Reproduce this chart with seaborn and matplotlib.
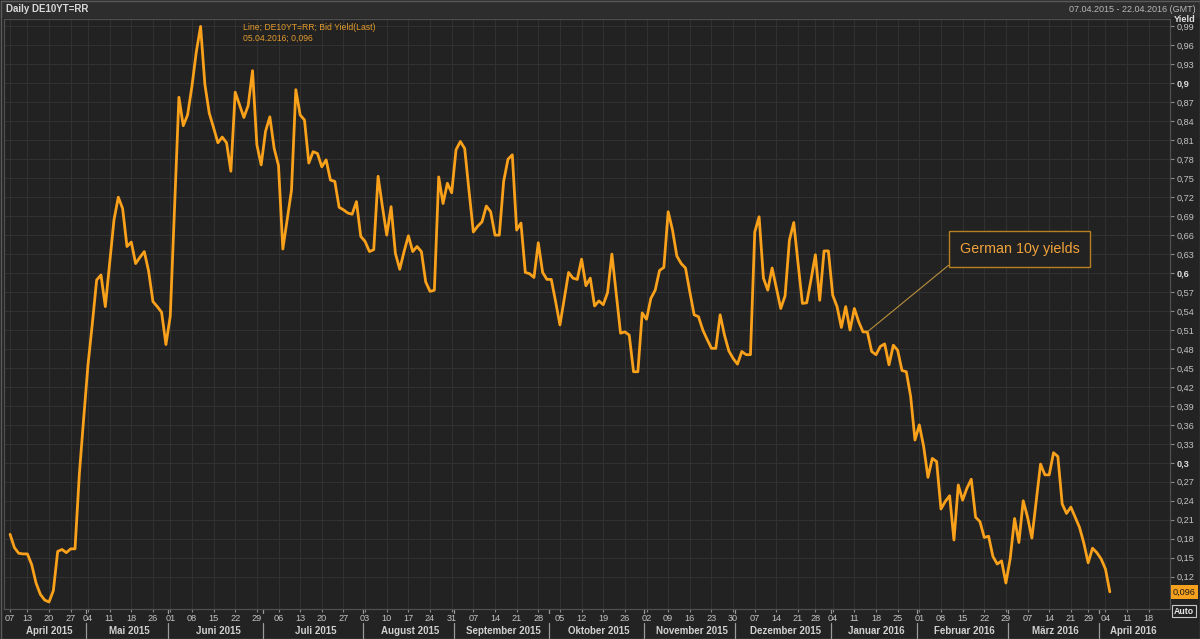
import numpy as np
import pandas as pd
import matplotlib
matplotlib.use("Agg")
import matplotlib.pyplot as plt
from matplotlib.patches import Rectangle
import seaborn as sns

# ---------------- data ----------------
axis_start = "2015-04-07"
axis_end = "2016-04-22"
holidays = ["2015-05-01", "2015-05-25", "2015-12-25", "2016-01-01",
            "2016-03-25", "2016-03-28"]

# daily DE10YT=RR bid yield (%), 07.04.2015 .. 05.04.2016 (trading days)
yields = [
    .187, .166, .157, .156, .156, .139, .110, .092, .083, .080,
    .098, .160, .163, .158, .164, .164, .282, .370, .455, .520,
    .589, .597, .547, .615, .684, .720, .702, .642, .649, .615,
    .625, .634, .603, .555, .547, .538, .487, .532, .705, .878,
    .833, .850, .895, .949, .990, .898, .853, .830, .806, .815,
    .806, .761, .886, .866, .846, .865, .920, .803, .771, .824,
    .847, .797, .770, .638, .685, .731, .890, .850, .842, .774,
    .792, .789, .768, .779, .747, .745, .704, .700, .695, .693,
    .713, .658, .650, .634, .637, .753, .705, .660, .705, .631,
    .606, .634, .659, .634, .642, .634, .586, .571, .573, .752,
    .710, .742, .727, .795, .808, .797, .730, .665, .674, .681,
    .706, .697, .660, .660, .745, .780, .787, .668, .679, .601,
    .599, .593, .648, .601, .590, .590, .555, .518, .560, .601,
    .592, .590, .622, .580, .592, .548, .556, .550, .569, .630,
    .568, .505, .507, .502, .444, .444, .537, .527, .560, .573,
    .604, .609, .697, .668, .627, .615, .608, .570, .534, .531,
    .510, .495, .481, .481, .534, .502, .477, .465, .456, .476,
    .471, .471, .665, .689, .592, .573, .608, .576, .544, .564,
    .652, .680, .615, .552, .553, .590, .629, .557, .635, .635,
    .565, .547, .514, .547, .510, .544, .523, .507, .507, .476,
    .471, .484, .488, .455, .486, .478, .446, .444, .405, .336,
    .360, .326, .277, .307, .302, .227, .239, .248, .178, .265,
    .241, .260, .274, .214, .207, .182, .184, .152, .140, .145,
    .110, .149, .212, .174, .240, .214, .181, .239, .298, .281,
    .281, .316, .310, .235, .220, .230, .214, .198, .173, .142,
    .165, .158, .148, .132, .096,
]

month_labels = ["April 2015", "Mai 2015", "Juni 2015", "Juli 2015",
                "August 2015", "September 2015", "Oktober 2015",
                "November 2015", "Dezember 2015", "Januar 2016",
                "Februar 2016", "März 2016", "April 2016"]

ytick_values = [0.12, 0.15, 0.18, 0.21, 0.24, 0.27, 0.30, 0.33, 0.36, 0.39,
                0.42, 0.45, 0.48, 0.51, 0.54, 0.57, 0.60, 0.63, 0.66, 0.69,
                0.72, 0.75, 0.78, 0.81, 0.84, 0.87, 0.90, 0.93, 0.96, 0.99]
bold_ticks = [0.30, 0.60, 0.90]

header_left = "Daily DE10YT=RR"
header_right = "07.04.2015 - 22.04.2016 (GMT)"
legend_lines = ["Line; DE10YT=RR; Bid Yield(Last)", "05.04.2016; 0,096"]
annotation_text = "German 10y yields"
annotation_date = "2016-01-14"
last_label = "0,096"

# ---------------- trading-day axis ----------------
days = pd.bdate_range(axis_start, axis_end)
days = days[~days.isin(pd.to_datetime(holidays))]
pos = np.arange(len(days))
df = pd.DataFrame({"pos": pos[:len(yields)], "yield": yields,
                   "date": days[:len(yields)]})

s = pd.Series(pos, index=days)
week_first = s.groupby(days.to_period("W")).first()
week_pos = week_first.values
week_lbl = [days[p].strftime("%d") for p in week_pos]
month_first = s.groupby(days.to_period("M")).first().values

# ---------------- style ----------------
BG = "#222222"
FIG_BG = "#232323"
GRID = "#313131"
TXT = "#c4c4c4"
ORANGE = "#f9a11b"

sns.set_theme(style="dark")
plt.rcParams["font.family"] = ["Liberation Sans", "DejaVu Sans"]

W, H = 1200, 639
fig = plt.figure(figsize=(W / 100, H / 100), dpi=100, facecolor=FIG_BG)
ax_l, ax_r, ax_t, ax_b = 4, 1170, 19, 609
ax = fig.add_axes([ax_l / W, (H - ax_b) / H, (ax_r - ax_l) / W, (ax_b - ax_t) / H])
ax.set_facecolor(BG)

sns.lineplot(data=df, x="pos", y="yield", ax=ax, color=ORANGE, lw=2.0,
             legend=False)

ax.set_xlim(-1.4, 267.9)
ax.set_ylim(0.0689, 1.0017)
ax.set_xlabel("")
ax.set_ylabel("")

ax.set_xticks(week_pos)
ax.set_xticklabels(week_lbl)
ax.set_yticks(ytick_values)
ylabels = []
for v in ytick_values:
    t = f"{v:.2f}".replace(".", ",")
    if v in bold_ticks:
        t = t.rstrip("0")
    ylabels.append(t)
ax.set_yticklabels(ylabels)
ax.grid(True, color=GRID, lw=0.8)
ax.set_axisbelow(True)

ax.yaxis.tick_right()
ax.tick_params(axis="y", which="both", right=True, left=False, length=3,
               width=0.8, pad=1.5, labelsize=6.6, colors="#8a8a8a",
               labelcolor=TXT)
ax.tick_params(axis="x", which="both", bottom=True, length=2, width=0.8,
               pad=1.5, labelsize=6.6, colors="#8a8a8a", labelcolor=TXT)
for lbl, v in zip(ax.get_yticklabels(), ytick_values):
    if v in bold_ticks:
        lbl.set_fontweight("bold")
        lbl.set_color("#e0e0e0")

for sp in ax.spines.values():
    sp.set_color("#505050")
    sp.set_linewidth(0.9)

# month labels & separators
bounds = list(month_first) + [ax.get_xlim()[1] - 0.9]
for i, name in enumerate(month_labels):
    xc = (bounds[i] + bounds[i + 1]) / 2
    ax.annotate(name, xy=(xc, 0), xycoords=("data", "axes fraction"),
                xytext=(0, -22), textcoords="offset pixels", ha="center",
                va="center", fontsize=7, fontweight="bold", color="#d0d0d0",
                annotation_clip=False)
xt = ax.get_xaxis_transform()
for xb in month_first[1:]:
    ax.plot([xb - 0.5, xb - 0.5], [0, -0.007], color="#9a9a9a", lw=0.9,
            transform=xt, clip_on=False)
    ax.plot([xb - 0.5, xb - 0.5], [-0.024, -0.05], color="#9a9a9a", lw=0.9,
            transform=xt, clip_on=False)

# last value tag
last = df["yield"].iloc[-1]
ax.annotate(last_label, xy=(1, last), xycoords=("axes fraction", "data"),
            xytext=(3, 0), textcoords="offset pixels", ha="left", va="center",
            fontsize=6.6, color="#1a1a1a",
            bbox=dict(boxstyle="square,pad=0.25", fc="#f5a11e", ec="none"),
            annotation_clip=False)

# annotation box
row = df[df["date"] == pd.Timestamp(annotation_date)].iloc[0]
ax.annotate(annotation_text, xy=(row["pos"], row["yield"]), xycoords="data",
            xytext=(0.871, 0.61), textcoords="axes fraction", ha="center",
            va="center", fontsize=10.3, color="#f2a23a",
            bbox=dict(boxstyle="square,pad=0.75", fc=BG, ec="#b8801f", lw=1),
            arrowprops=dict(arrowstyle="-", color="#b8903c", lw=0.8,
                            relpos=(0, 0), shrinkA=0, shrinkB=0))

# header bar and texts
fig.patches.append(Rectangle((0, (H - 18) / H), 1, 18 / H, transform=fig.transFigure,
                             fc="#2d2d2d", ec="none", zorder=-1))
fig.patches.append(Rectangle((0.5 / W, 0.5 / H), (W - 1) / W, (H - 1) / H,
                             transform=fig.transFigure, fill=False,
                             ec="#5a5a5a", lw=1))
fig.text(6 / W, 1 - 9 / H, header_left, ha="left", va="center", fontsize=7,
         fontweight="bold", color="#d8d8d8")
fig.text(1196 / W, 1 - 9 / H, header_right, ha="right", va="center",
         fontsize=6.5, color="#b8b8b8")
fig.text(1196 / W, 1 - 19 / H, "Yield", ha="right", va="center", fontsize=6.6,
         fontweight="bold", color="#e0e0e0")
for k, line in enumerate(legend_lines):
    fig.text(243 / W, 1 - (27 + 11 * k) / H, line, ha="left", va="center",
             fontsize=6.2, color="#e39a2b")
fig.text(1184 / W, 1 - 611 / H, "Auto", ha="center", va="center", fontsize=6.3,
         fontweight="bold", color="#e8e8e8",
         bbox=dict(boxstyle="square,pad=0.2", fc=BG, ec="#c8c8c8", lw=0.8))

fig.savefig("out.png", dpi=100, facecolor=FIG_BG)
